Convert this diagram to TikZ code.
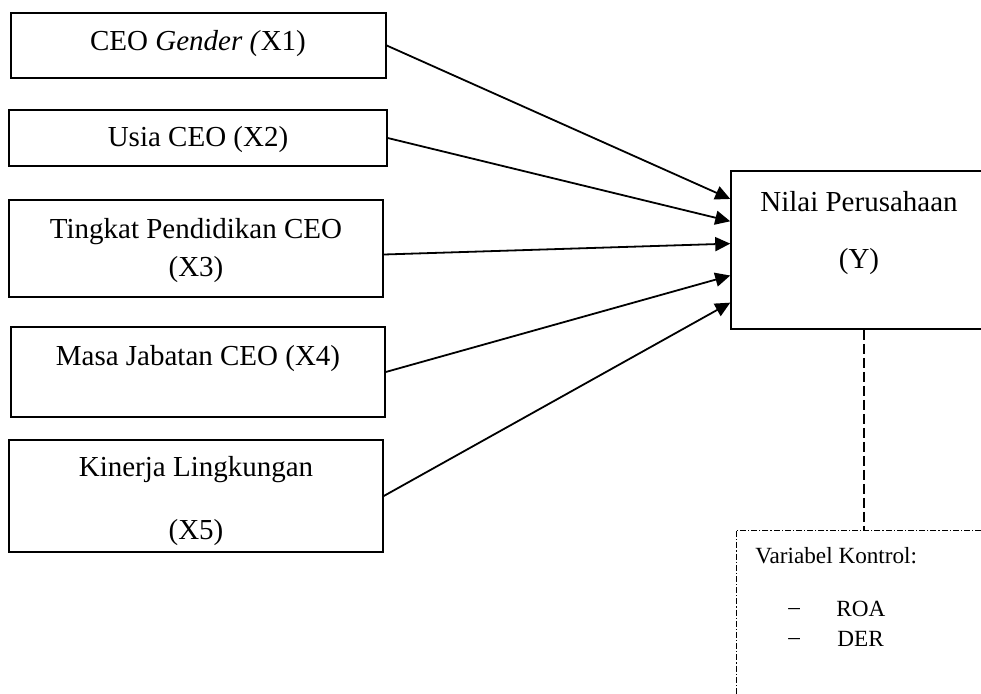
\documentclass[tikz,border=0pt]{standalone}
\usepackage{fontspec}
\setmainfont{Liberation Serif}
\usetikzlibrary{arrows.meta,calc}
\begin{document}
\begin{tikzpicture}[x=0.5pt,y=-0.5pt,
  boxnode/.style={draw,line width=0.75pt,inner sep=0pt,rectangle},
  lbl/.style={font=\fontsize{14.5}{17}\selectfont,inner sep=0pt,anchor=center},
  smalllbl/.style={font=\fontsize{11.6}{14}\selectfont,inner sep=0pt,anchor=west},
  arr/.style={line width=0.9pt,-{Triangle[length=7.5pt,width=7pt]}},
  ctrlline/.style={line width=0.55pt,dash pattern=on 5pt off 2pt},
  ctrlbox/.style={draw,line width=0.45pt,dash pattern=on 3pt off 1pt on 0.6pt off 1pt,inner sep=0pt},
]
\useasboundingbox (0,0) rectangle (981,693);
\clip (0,0) rectangle (981,693);

% left boxes
\node[boxnode,minimum width=187.5pt,minimum height=32.5pt] (b1) at (198.5,45.5) {};
\node[boxnode,minimum width=189pt,minimum height=28pt] (b2) at (198,138) {};
\node[boxnode,minimum width=187pt,minimum height=48.5pt] (b3) at (196,248.5) {};
\node[boxnode,minimum width=187pt,minimum height=45pt] (b4) at (198,372) {};
\node[boxnode,minimum width=187pt,minimum height=56pt] (b5) at (196,496) {};

\node[lbl] (t1) at (198,44) {CEO \textit{Gender (}X1)};
\node[lbl] (t2) at (198,140) {Usia CEO (X2)};
\node[lbl] (t3a) at (196,232) {Tingkat Pendidikan CEO};
\node[lbl] (t3b) at (196,270) {(X3)};
\node[lbl] (t4) at (198,359) {Masa Jabatan CEO (X4)};
\node[lbl] (t5a) at (196,470) {Kinerja Lingkungan};
\node[lbl] (t5b) at (196,533) {(X5)};

% Y box
\node[boxnode,minimum width=128pt,minimum height=79pt] (Y) at (859,250) {};
\node[lbl] (ty1) at (859,202) {Nilai Perusahaan};
\node[lbl] (ty2) at (859,262) {(Y)};

% control box
\node[ctrlbox,minimum width=128pt,minimum height=85pt] (ctrl) at (864,615) {};
\node[smalllbl] (k0) at (755,556) {Variabel Kontrol:};
\node[smalllbl] (k1) at (788,611) {–};
\node[smalllbl] (k2) at (836,609) {ROA};
\node[smalllbl] (k3) at (788,641) {–};
\node[smalllbl] (k4) at (837,639) {DER};

% arrows
\draw[arr] (b1.east) -- ($(Y.north west)!0.18!(Y.south west)$);
\draw[arr] (b2.east) -- ($(Y.north west)!0.32!(Y.south west)$);
\draw[arr] ($(b3.east)+(0,6)$) -- ($(Y.north west)!0.46!(Y.south west)$);
\draw[arr] (b4.east) -- ($(Y.north west)!0.66!(Y.south west)$);
\draw[arr] (b5.east) -- ($(Y.north west)!0.83!(Y.south west)$);

% control connector
\draw[ctrlline] (ctrl.north |- Y.south) -- (ctrl.north);
\end{tikzpicture}
\end{document}
